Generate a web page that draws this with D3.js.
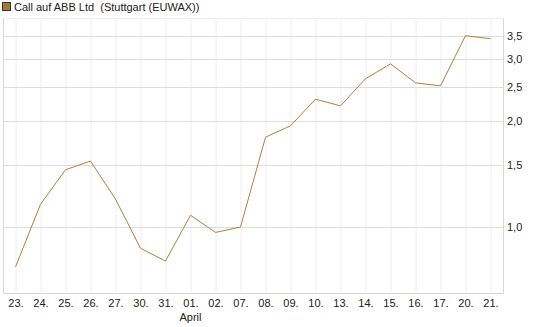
<!DOCTYPE html>
<html>
<head>
<meta charset="utf-8">
<script src="https://cdn.jsdelivr.net/npm/d3@7"></script>
<style>
  body { margin: 0; background: #fff; }
  text { font-family: "Liberation Sans", Arial, sans-serif; font-size: 11px; fill: #222; }
</style>
</head>
<body>
<svg id="chart" width="545" height="327"></svg>
<script>
const dates = ['23.', '24.', '25.', '26.', '27.', '30.', '31.', '01.', '02.', '07.', '08.', '09.', '10.', '13.', '14.', '15.', '16.', '17.', '20.', '21.'];
const prices = [0.77, 1.16, 1.455, 1.54, 1.20, 0.87, 0.80, 1.08, 0.965, 1.0, 1.80, 1.94, 2.31, 2.21, 2.64, 2.91, 2.57, 2.52, 3.50, 3.43];
const yTicks = [1.0, 1.5, 2.0, 2.5, 3.0, 3.5];
const monthLabels = [{ date: '01.', text: 'April' }];
const title = 'Call auf ABB Ltd\u00a0\u00a0(Stuttgart (EUWAX))';

const lineColor = '#b07f3c';
const plotLeft = 3, plotRight = 503, plotTop = 18, plotBottom = 293;

const svg = d3.select('#chart');

const x = d3.scalePoint()
    .domain(dates)
    .range([plotLeft, plotRight])
    .padding(0.5);

const y = d3.scaleLog()
    .domain([0.649, 3.93])
    .range([plotBottom, plotTop]);

// vertical grid
svg.append('g')
    .selectAll('line')
    .data(dates)
    .join('line')
    .attr('x1', d => x(d) + 0.5)
    .attr('x2', d => x(d) + 0.5)
    .attr('y1', plotTop)
    .attr('y2', plotBottom)
    .attr('stroke', '#eeeeee');

// horizontal grid
svg.append('g')
    .selectAll('line')
    .data(yTicks)
    .join('line')
    .attr('x1', plotLeft)
    .attr('x2', plotRight)
    .attr('y1', d => Math.round(y(d)) + 0.5)
    .attr('y2', d => Math.round(y(d)) + 0.5)
    .attr('stroke', '#dddddd');

// frame: left, right, bottom
svg.append('path')
    .attr('d', `M${plotLeft + 0.5},${plotTop}V${plotBottom + 0.5}H${plotRight + 0.5}V${plotTop}`)
    .attr('fill', 'none')
    .attr('stroke', '#d6d6d6');

// top line of plot
svg.append('line')
    .attr('x1', plotLeft).attr('x2', plotRight + 1)
    .attr('y1', plotTop + 0.5).attr('y2', plotTop + 0.5)
    .attr('stroke', '#eeeeee');

// y labels
const yAxis = d3.axisRight(y)
    .tickValues(yTicks)
    .tickSize(0)
    .tickPadding(4)
    .tickFormat(d => d3.format('.1f')(d).replace('.', ','));

svg.append('g')
    .attr('transform', `translate(${plotRight},0)`)
    .call(yAxis)
    .call(g => g.select('.domain').remove())
    .call(g => g.selectAll('text').attr('fill', '#222').style('font-size', '11px'));

// x labels
const xAxis = d3.axisBottom(x)
    .tickSize(0)
    .tickPadding(6);

svg.append('g')
    .attr('transform', `translate(0,${plotBottom})`)
    .call(xAxis)
    .call(g => g.select('.domain').remove())
    .call(g => g.selectAll('text').attr('fill', '#222').style('font-size', '11px'));

svg.selectAll('.month')
    .data(monthLabels)
    .join('text')
    .attr('class', 'month')
    .attr('x', d => x(d.date))
    .attr('y', 321)
    .attr('text-anchor', 'middle')
    .text(d => d.text);

// price line
const line = d3.line()
    .x((d, i) => x(dates[i]))
    .y(d => y(d));

svg.append('path')
    .datum(prices)
    .attr('d', line)
    .attr('fill', 'none')
    .attr('stroke', lineColor)
    .attr('stroke-width', 1);

// legend
svg.append('rect')
    .attr('x', 2.5).attr('y', 2.5)
    .attr('width', 8).attr('height', 8)
    .attr('fill', '#a7773a')
    .attr('stroke', '#333');

svg.append('text')
    .attr('x', 14)
    .attr('y', 11)
    .text(title);
</script>
</body>
</html>
